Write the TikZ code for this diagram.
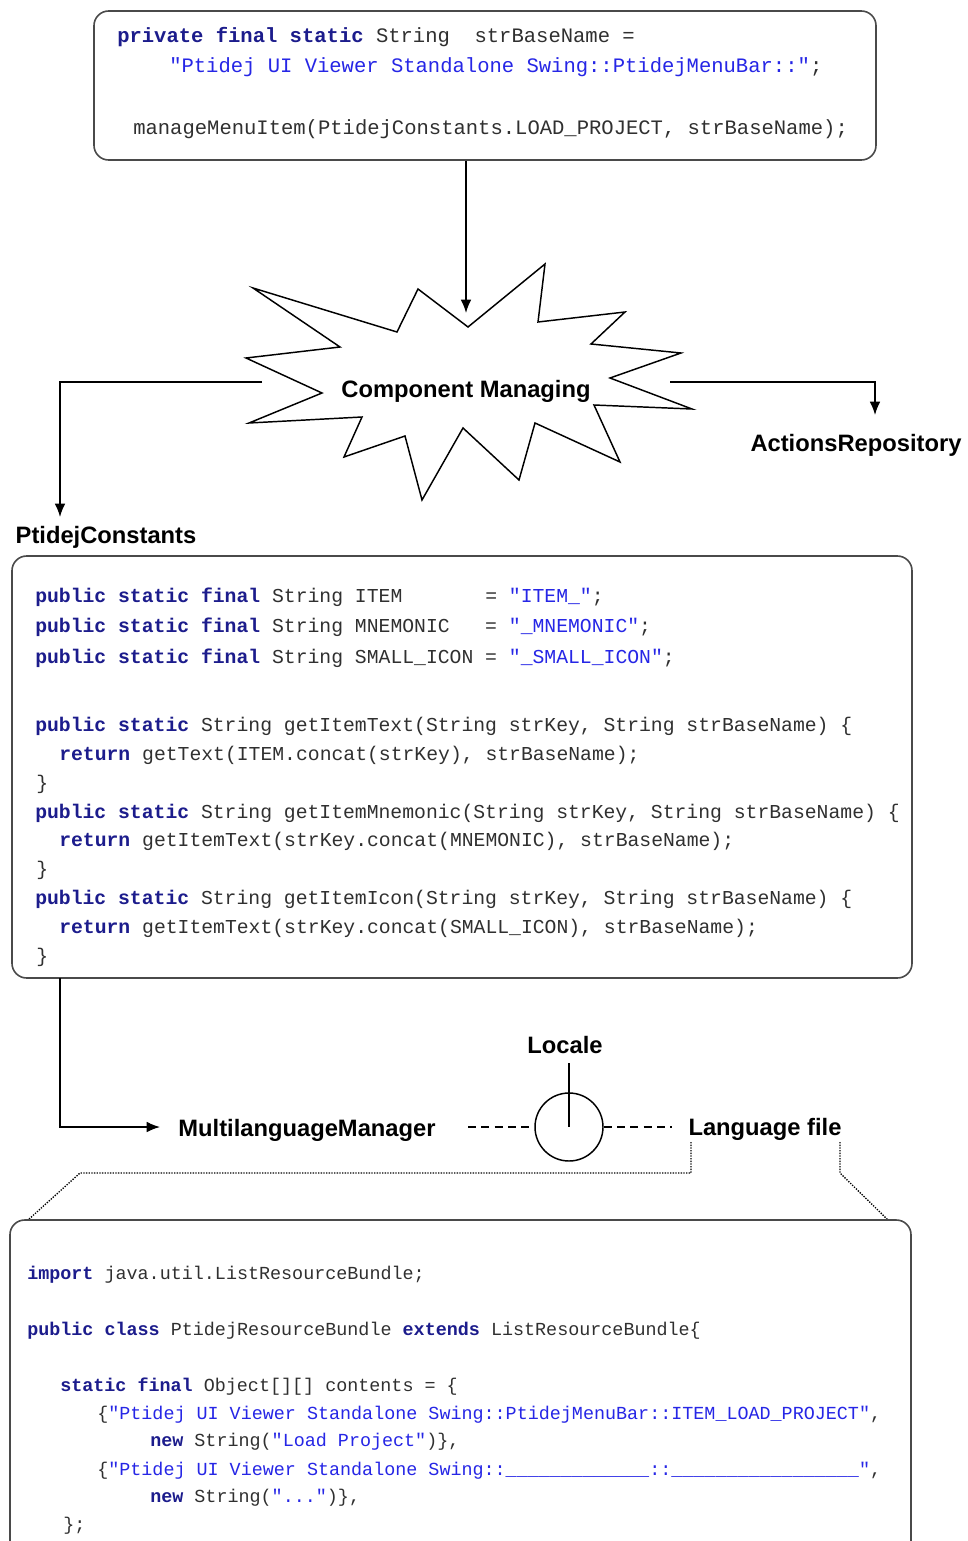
\documentclass[tikz,border=0pt]{standalone}
\usepackage{fontspec}
\setmainfont{Liberation Sans}
\setsansfont{Liberation Sans}
\setmonofont{Liberation Mono}
\usetikzlibrary{arrows.meta,positioning,fit}

\definecolor{kwblue}{HTML}{1C1C8C}
\definecolor{strblue}{HTML}{2626E6}
\definecolor{codegray}{HTML}{303030}
\definecolor{framegray}{HTML}{4A4A4A}

\newcommand{\kw}[1]{\textbf{\color{kwblue}#1}}
\newcommand{\jstr}[1]{{\color{strblue}#1}}

\begin{document}
\begin{tikzpicture}[x=0.75pt, y=-0.75pt, >=Latex,
  codebox/.style={draw=framegray, line width=1.2pt, rounded corners=11pt, inner sep=0pt},
  codeline/.style={anchor=base west, inner sep=0pt, text=codegray, font=\ttfamily\fontsize{#1}{#1}\selectfont},
  lbl/.style={anchor=base, inner sep=0pt, font=\bfseries\fontsize{17.8}{20}\selectfont},
  arr/.style={-{Latex[length=10pt,width=8pt]}, line width=1.1pt},
  link/.style={line width=1.1pt, dash pattern=on 6pt off 4pt},
  zoomline/.style={line width=1pt, densely dotted}]
  \path[fill=white, use as bounding box] (0,0) rectangle (967,1541);

  % calling code
  \node[codebox, fit={(94,11) (876,160)}] (topbox) {};
  \begin{scope}
    \foreach \n/\x/\y/\code in {
      1/117/43/{\kw{private final static} String~~strBaseName =},
      2/169/73/{\jstr{"Ptidej UI Viewer Standalone Swing::PtidejMenuBar::"};},
      3/133/135/{manageMenuItem(PtidejConstants.LOAD\_PROJECT, strBaseName);}}
      \node[codeline=15.4] (top\n) at (\x,\y) {\code};
  \end{scope}

  % the burst
  \draw[line width=1.1pt, fill=white] (253,288) -- (397,332) -- (418,289) -- (468,327)
    -- (545,264) -- (538,322) -- (625,312) -- (591,344) -- (681,353) -- (610,378)
    -- (692,409) -- (594,405) -- (620,462) -- (535,423) -- (519,480) -- (463,428)
    -- (422,500) -- (405,436) -- (344,457) -- (362,417) -- (249,423) -- (322,393)
    -- (246,358) -- (340,347) -- cycle;
  \node[lbl] (cm) at (466,397) {Component Managing};
  \node[lbl] (actrep) at (856,451) {ActionsRepository};
  \node[lbl] (pc) at (106,543) {PtidejConstants};

  \coordinate (burst-in) at (466,313);
  \coordinate (burst-l) at (262,382);
  \coordinate (burst-r) at (670,382);
  \coordinate (pc-in) at (60,517);
  \coordinate (ar-in) at (875,415);
  \draw[arr] (topbox.south -| cm) -- (burst-in);
  \draw[arr] (burst-l) -| (pc-in);
  \draw[arr] (burst-r) -| (ar-in);

  % constants
  \node[codebox, fit={(12,556) (912,978)}] (constbox) {};
  \begin{scope}
    \foreach \n/\x/\y/\code in {
      1/35/602/{\kw{public static final} String ITEM~~~~~~~= \jstr{"ITEM\_"};},
      2/35/632/{\kw{public static final} String MNEMONIC~~~= \jstr{"\_MNEMONIC"};},
      3/35/663/{\kw{public static final} String SMALL\_ICON = \jstr{"\_SMALL\_ICON"};},
      4/35/731/{\kw{public static} String getItemText(String strKey, String strBaseName) \{},
      5/59/760/{\kw{return} getText(ITEM.concat(strKey), strBaseName);},
      6/36/789/{\}},
      7/35/818/{\kw{public static} String getItemMnemonic(String strKey, String strBaseName) \{},
      8/59/846/{\kw{return} getItemText(strKey.concat(MNEMONIC), strBaseName);},
      9/36/875/{\}},
      10/35/904/{\kw{public static} String getItemIcon(String strKey, String strBaseName) \{},
      11/59/933/{\kw{return} getItemText(strKey.concat(SMALL\_ICON), strBaseName);},
      12/36/962/{\}}}
      \node[codeline=14.8] (const\n) at (\x,\y) {\code};
  \end{scope}

  % language part
  \node[lbl] (locale) at (565,1053) {Locale};
  \node[lbl] (mlm) at (307,1136) {MultilanguageManager};
  \node[lbl] (langfile) at (765,1135) {Language file};
  \node[circle, draw, line width=1.1pt, minimum size=51pt, inner sep=0pt] (lens) at (569,1127) {};

  \coordinate (cb-out) at (60,978);
  \coordinate (mlm-in) at (160,1127);
  \coordinate (mlm-out) at (468,1127);
  \coordinate (lf-in) at (672,1127);
  \coordinate (locale-out) at (569,1063);
  \draw[arr] (cb-out) |- (mlm-in);
  \draw[link] (mlm-out) -- (lens.west);
  \draw[link] (lens.east) -- (lf-in);
  \draw[line width=1.1pt] (locale-out) -- (lens.center);

  \draw[zoomline] (691,1142) -- (691,1173) -- (80,1173) -- (28,1220);
  \draw[zoomline] (840,1142) -- (840,1173) -- (888,1220);

  % resource bundle
  \draw[draw=framegray, line width=1.2pt, rounded corners=11pt] (10,1550) -- (10,1220) -- (911,1220) -- (911,1550);
  \begin{scope}
    \foreach \n/\x/\y/\code in {
      1/27/1279/{\kw{import} java.util.ListResourceBundle;},
      2/27/1335/{\kw{public class} PtidejResourceBundle \kw{extends} ListResourceBundle\{},
      3/60/1391/{\kw{static final} Object[][] contents = \{},
      4/97/1419/{\{\jstr{"Ptidej UI Viewer Standalone Swing::PtidejMenuBar::ITEM\_LOAD\_PROJECT"},},
      5/150/1446/{\kw{new} String(\jstr{"Load Project"})\},},
      6/97/1475/{\{\jstr{"Ptidej UI Viewer Standalone Swing::\_\_\_\_\_\_\_\_\_\_\_\_\_::\_\_\_\_\_\_\_\_\_\_\_\_\_\_\_\_\_"},},
      7/150/1502/{\kw{new} String(\jstr{"..."})\},},
      8/63/1530/{\};}}
      \node[codeline=13.8] (bundle\n) at (\x,\y) {\code};
  \end{scope}
\end{tikzpicture}
\end{document}
